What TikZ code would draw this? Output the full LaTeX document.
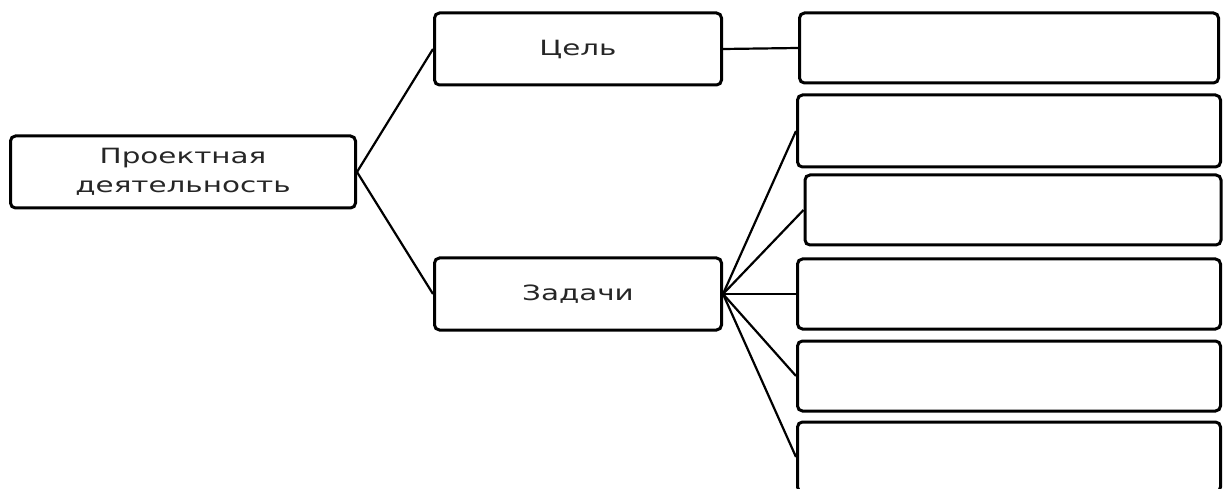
\documentclass[tikz,border=0pt]{standalone}
\usepackage{fontspec}
\setmainfont{DejaVu Sans}[FakeStretch=1.4]
\usepackage{tikz}

\begin{document}
\begin{tikzpicture}[x=1pt, y=-1pt,
    box/.style={draw, line width=3pt, rounded corners=5pt, inner sep=0pt,
        text=black!85, align=center, font=\fontsize{21}{29}\selectfont},
    link/.style={line width=2.2pt}]
\useasboundingbox (0, 0) rectangle (1224, 489);
% left column
\node[box, minimum width=345pt, minimum height=72pt] (pd) at (183, 172) {Проектная\\деятельность};
% middle column
\node[box, minimum width=287pt, minimum height=72pt] (goal) at (578, 49) {Цель};
\node[box, minimum width=287pt, minimum height=72pt] (tasks) at (578, 294) {Задачи};
% right column
\node[box, minimum width=419pt, minimum height=70pt] (g1) at (1009, 48) {};
\node[box, minimum width=423pt, minimum height=72pt] (t1) at (1009, 131) {};
\node[box, minimum width=416pt, minimum height=70pt] (t2) at (1013, 210) {};
\foreach \n/\y in {3/294, 4/376, 5/457}
    \node[box, minimum width=423pt, minimum height=70pt] (t\n) at (1009, \y) {};
% links
\draw[link] (pd.east) -- (goal.west);
\draw[link] (pd.east) -- (tasks.west);
\draw[link] (goal.east) -- (g1.west);
\foreach \n in {1,...,5}
    \draw[link] (tasks.east) -- (t\n.west);
\end{tikzpicture}
\end{document}
